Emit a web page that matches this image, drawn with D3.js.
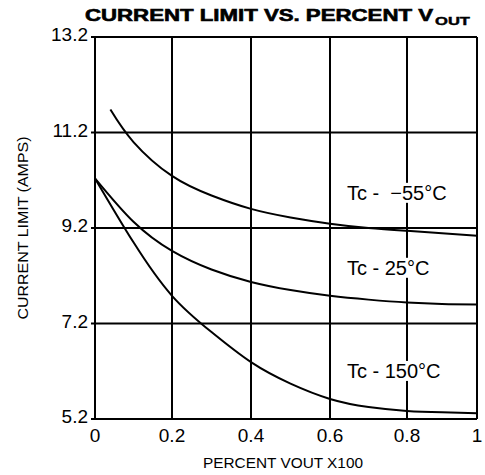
<!DOCTYPE html>
<html>
<head>
<meta charset="utf-8">
<script src="https://cdn.jsdelivr.net/npm/d3@7"></script>
<style>
  body { margin: 0; background: #fff; }
  svg { display: block; }
  text { font-family: "Liberation Sans", Arial, Helvetica, sans-serif; fill: #000; }
</style>
</head>
<body>
<div id="chart"></div>
<script>
// Values (x = fraction of Vout, y = amps)
var xTicks = [0, 0.2, 0.4, 0.6, 0.8, 1];
var xTickLabels = ["0", "0.2", "0.4", "0.6", "0.8", "1"];
var yTicks = [5.2, 7.2, 9.2, 11.2, 13.2];
var yTickLabels = ["5.2", "7.2", "9.2", "11.2", "13.2"];

var xMinus55 = [0.04, 0.1, 0.2, 0.3, 0.4, 0.5, 0.6, 0.7, 0.8, 0.9, 1.0];
var iMinus55 = [11.68, 11.0, 10.29, 9.88, 9.6, 9.42, 9.29, 9.2, 9.14, 9.09, 9.04];

var x25 = [0, 0.1, 0.2, 0.3, 0.4, 0.5, 0.6, 0.7, 0.8, 0.9, 1.0];
var i25 = [10.24, 9.33, 8.72, 8.33, 8.07, 7.9, 7.78, 7.7, 7.64, 7.61, 7.6];

var x150 = [0, 0.1, 0.2, 0.3, 0.4, 0.5, 0.6, 0.7, 0.8, 0.9, 1.0];
var i150 = [10.24, 8.9, 7.78, 7.02, 6.39, 5.94, 5.62, 5.45, 5.37, 5.34, 5.32];

var curveNames = ["Tc -  \u221255\u00b0C", "Tc - 25\u00b0C", "Tc - 150\u00b0C"];
// where each name sits, in data units (x, amps)
var labelAt = [[0.644, 9.79], [0.644, 8.22], [0.644, 6.06]];

var width = 485;
var height = 475;

var svg = d3.select("#chart").append("svg")
    .attr("width", width)
    .attr("height", height);

// the scanned grid is a bit uneven, last column is narrower
var x = d3.scaleLinear().domain(xTicks).range([95, 172, 251, 330, 407, 477]);
var y = d3.scaleLinear().domain([5.2, 13.2]).range([419, 37]);

// Title, the font is wide so stretch it
svg.append("text")
    .attr("x", 85)
    .attr("y", 21)
    .attr("textLength", 348)
    .attr("lengthAdjust", "spacingAndGlyphs")
    .style("font-size", "16px")
    .style("font-weight", "bold")
    .style("stroke", "#000")
    .style("stroke-width", 0.6)
    .text("CURRENT LIMIT VS. PERCENT V");
svg.append("text")
    .attr("x", 435)
    .attr("y", 24.5)
    .attr("textLength", 35)
    .attr("lengthAdjust", "spacingAndGlyphs")
    .style("font-size", "11px")
    .style("font-weight", "bold")
    .style("stroke", "#000")
    .style("stroke-width", 0.4)
    .text("OUT");

// Grid lines (the frame is part of the grid)
svg.append("g").selectAll("line")
    .data(xTicks)
    .enter().append("line")
    .attr("x1", function(d) { return x(d); })
    .attr("x2", function(d) { return x(d); })
    .attr("y1", y(5.2))
    .attr("y2", y(13.2))
    .attr("stroke", "#000")
    .attr("stroke-width", 2);

svg.append("g").selectAll("line")
    .data(yTicks)
    .enter().append("line")
    .attr("x1", x(0) - 4)
    .attr("x2", x(1))
    .attr("y1", function(d) { return y(d); })
    .attr("y2", function(d) { return y(d); })
    .attr("stroke", "#000")
    .attr("stroke-width", 2);

// Tick labels
svg.append("g").selectAll("text")
    .data(yTicks)
    .enter().append("text")
    .attr("x", x(0) - 7)
    .attr("y", function(d) { return y(d) + 4; })
    .attr("text-anchor", "end")
    .style("font-size", "19px")
    .text(function(d, i) { return yTickLabels[i]; });

svg.append("g").selectAll("text")
    .data(xTicks)
    .enter().append("text")
    .attr("x", function(d) { return x(d); })
    .attr("y", y(5.2) + 23)
    .attr("text-anchor", "middle")
    .style("font-size", "19px")
    .text(function(d, i) { return xTickLabels[i]; });

// Axis titles
svg.append("text")
    .attr("x", 283)
    .attr("y", 468)
    .attr("text-anchor", "middle")
    .attr("textLength", 160)
    .attr("lengthAdjust", "spacingAndGlyphs")
    .style("font-size", "15px")
    .text("PERCENT VOUT X100");

svg.append("text")
    .attr("transform", "translate(28," + 228 + ") rotate(-90)")
    .attr("text-anchor", "middle")
    .attr("textLength", 183)
    .attr("lengthAdjust", "spacingAndGlyphs")
    .style("font-size", "15px")
    .text("CURRENT LIMIT (AMPS)");

// Curves
var line = d3.line()
    .x(function(d) { return x(d[0]); })
    .y(function(d) { return y(d[1]); })
    .curve(d3.curveNatural);

var series = [
    d3.zip(xMinus55, iMinus55),
    d3.zip(x25, i25),
    d3.zip(x150, i150)
];

svg.append("g").selectAll("path")
    .data(series)
    .enter().append("path")
    .attr("d", line)
    .attr("fill", "none")
    .attr("stroke", "#000")
    .attr("stroke-width", 2);

// Curve names, with white behind them so the grid is broken
var labels = svg.append("g").selectAll("g")
    .data(curveNames)
    .enter().append("g");

labels.append("text")
    .attr("x", function(d, i) { return x(labelAt[i][0]); })
    .attr("y", function(d, i) { return y(labelAt[i][1]); })
    .style("font-size", "20px")
    .style("white-space", "pre")
    .text(function(d) { return d; });

labels.each(function() {
    var g = d3.select(this);
    var bb = g.select("text").node().getBBox();
    g.insert("rect", "text")
        .attr("x", bb.x - 1)
        .attr("y", bb.y + 1)
        .attr("width", bb.width + 2)
        .attr("height", bb.height - 2)
        .attr("fill", "#fff");
});
</script>
</body>
</html>
